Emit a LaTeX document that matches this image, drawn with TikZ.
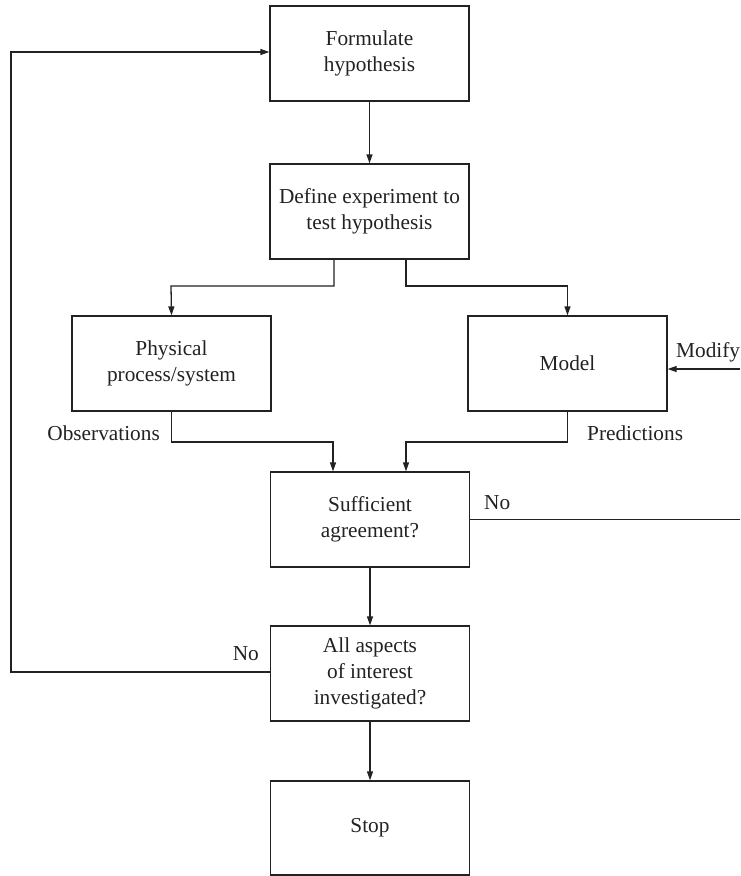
\documentclass[tikz,border=0pt]{standalone}
\usepackage{fontspec}
\setmainfont{Liberation Serif}
\usetikzlibrary{arrows.meta}
\definecolor{ink}{HTML}{222222}
\begin{document}
\begin{tikzpicture}[x=1pt,y=-1pt,
  box/.style={draw=ink, line width=1.3pt, minimum width=199pt, minimum height=95pt, align=center, inner sep=0pt,
    text=ink, font=\fontsize{21.3}{26}\selectfont},
  lbl/.style={inner sep=0pt, text=ink, font=\fontsize{21.3}{26}\selectfont},
  conn/.style={draw=ink, line width=1.3pt},
  arr/.style={conn, -{Triangle[length=9pt,width=6pt]}}]
\useasboundingbox (0,0) rectangle (740,876);
\node[box] (form) at (369.5,53.5) {Formulate\\hypothesis};
\node[box] (defn) at (369.5,211.5) {Define experiment to\\test hypothesis};
\node[box] (phys) at (171.5,363.5) {Physical\\process/system};
\node[box] (model) at (567.5,363.5) {Model};
\node[box] (suff) at (370,519.5) {Sufficient\\agreement?};
\node[box] (all) at (370,673.5) {All aspects\\of interest\\investigated?};
\node[box, minimum height=94pt] (stop) at (370,828) {Stop};
\coordinate (modsrc) at (740,369);
\coordinate (noend) at (740,519.5);
\coordinate (loopc) at (11,52);
\draw[arr] (form) -- (defn);
\draw[arr] (defn.south -| 334,0) |- (171,286) -- (phys.north);
\draw[arr] (defn.south -| 406,0) |- (567.5,286) -- (model.north);
\draw[arr] (phys.south) |- (333,442) -- (suff.north -| 333,0);
\draw[arr] (model.south) |- (406,442) -- (suff.north -| 406,0);
\draw[arr] (modsrc) -- (model.east |- modsrc);
\draw[conn] (suff.east) -- (noend);
\draw[arr] (suff) -- (all);
\draw[arr] (all.west |- 0,672) -| (loopc) -- (form.west |- loopc);
\draw[arr] (all) -- (stop);
\node[lbl, anchor=east] (obs) at (160,433) {Observations};
\node[lbl, anchor=west] (pred) at (587,433) {Predictions};
\node[lbl, anchor=west] (modl) at (676,352) {Modify};
\node[lbl, anchor=west] (no1) at (484,503) {No};
\node[lbl, anchor=east] (no2) at (259,654) {No};
\end{tikzpicture}
\end{document}
